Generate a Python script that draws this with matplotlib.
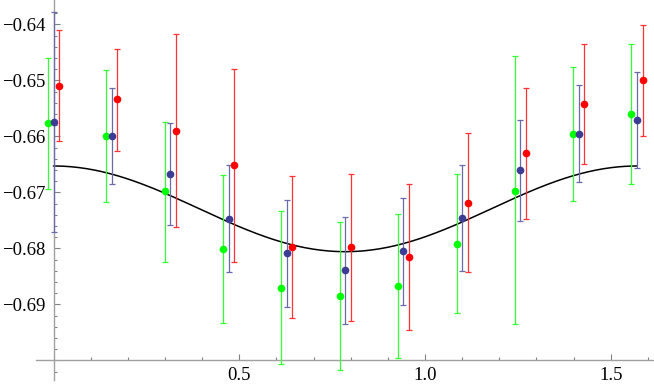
import numpy as np
import matplotlib
matplotlib.use("Agg")
import matplotlib.pyplot as plt
from matplotlib.ticker import FixedLocator

# group positions (angle)
x_pos = [0.0, 0.157, 0.314, 0.471, 0.628, 0.785, 0.942, 1.100, 1.257, 1.414, 1.571]

# green series: value, upper end, lower end
green_y = [-0.6577, -0.6599, -0.6698, -0.6801, -0.6870, -0.6885, -0.6867, -0.6793, -0.6697, -0.6595, -0.6560]
green_hi = [-0.6461, -0.6482, -0.6574, -0.6669, -0.6734, -0.6753, -0.6739, -0.6668, -0.6457, -0.6476, -0.6435]
green_lo = [-0.6694, -0.6717, -0.6824, -0.6933, -0.7006, -0.7017, -0.6995, -0.6916, -0.6936, -0.6715, -0.6685]

# blue series
blue_y = [-0.6574, -0.6599, -0.6668, -0.6747, -0.6809, -0.6839, -0.6805, -0.6746, -0.6661, -0.6595, -0.6571]
blue_hi = [-0.6378, -0.6513, -0.6577, -0.6652, -0.6714, -0.6744, -0.6710, -0.6652, -0.6570, -0.6509, -0.6486]
blue_lo = [-0.6770, -0.6686, -0.6758, -0.6842, -0.6904, -0.6935, -0.6901, -0.6840, -0.6751, -0.6682, -0.6656]

# red series
red_y = [-0.6510, -0.6534, -0.6590, -0.6652, -0.6798, -0.6798, -0.6815, -0.6719, -0.6630, -0.6543, -0.6499]
red_hi = [-0.6411, -0.6444, -0.6418, -0.6480, -0.6670, -0.6668, -0.6685, -0.6594, -0.6514, -0.6435, -0.6401]
red_lo = [-0.6608, -0.6626, -0.6762, -0.6824, -0.6925, -0.6929, -0.6945, -0.6843, -0.6747, -0.6650, -0.6599]

# fit curve: offset + amp*cos(4x)
fit_offset = -0.67295
fit_amp = 0.00765

# ticks
x_major = [0.5, 1.0, 1.5]
x_minor = [0.1, 0.2, 0.3, 0.4, 0.6, 0.7, 0.8, 0.9, 1.1, 1.2, 1.3, 1.4, 1.6]
y_major = [-0.69, -0.68, -0.67, -0.66, -0.65, -0.64]
y_minor = list(np.round(np.arange(-0.702, -0.636, 0.002), 3))

x = np.array(x_pos)
fig = plt.figure(figsize=(6.54, 3.9), dpi=100)
ax = fig.add_axes([0, 0, 1, 1])

series = [
    (x - 0.015, green_y, green_hi, green_lo, "#00ff00", "#33ff33"),
    (x, blue_y, blue_hi, blue_lo, "#3c3c94", "#6a6aaa"),
    (x + 0.015, red_y, red_hi, red_lo, "#ff0000", "#ff3333"),
]
for xs, y, hi, lo, c, ec in series:
    y = np.array(y)
    err = [y - np.array(lo), np.array(hi) - y]
    ax.errorbar(xs, y, yerr=err, fmt="o", color=c, ecolor=ec, elinewidth=0.9,
                capsize=2.4, capthick=0.9, markersize=4.5, zorder=3)

xc = np.linspace(0, np.pi / 2, 300)
ax.plot(xc, fit_offset + fit_amp * np.cos(4 * xc), color="black", lw=1.1, zorder=2)

ax.set_xlim(-0.1443, 1.6166)
ax.set_ylim(-0.70530, -0.63566)

for s in ["top", "right"]:
    ax.spines[s].set_visible(False)
ax.spines["left"].set_position(("data", 0))
ax.spines["bottom"].set_position(("data", -0.70))
ax.spines["left"].set_bounds(-0.7036, -0.63566)
ax.spines["bottom"].set_bounds(-0.0474, 1.6166)
for s in ["left", "bottom"]:
    ax.spines[s].set_color("#a0a0a0")
    ax.spines[s].set_linewidth(1.0)

ax.xaxis.set_major_locator(FixedLocator(x_major))
ax.xaxis.set_minor_locator(FixedLocator(x_minor))
ax.yaxis.set_major_locator(FixedLocator(y_major))
ax.yaxis.set_minor_locator(FixedLocator(y_minor))
ax.xaxis.set_major_formatter(plt.FuncFormatter(lambda v, p: f"{v:.1f}"))
ax.yaxis.set_major_formatter(plt.FuncFormatter(lambda v, p: f"\u2212{abs(v):.2f}"))

ax.tick_params(which="both", direction="in", color="#808080", width=0.8,
               labelsize=13.5, labelfontfamily="Liberation Serif")
ax.tick_params(which="major", length=4.5)
ax.tick_params(which="minor", length=2.5)
ax.tick_params(axis="y", which="major", pad=6)
ax.tick_params(axis="x", which="major", pad=5)
ax.set_facecolor("white")

fig.savefig("out.png", dpi=100)
